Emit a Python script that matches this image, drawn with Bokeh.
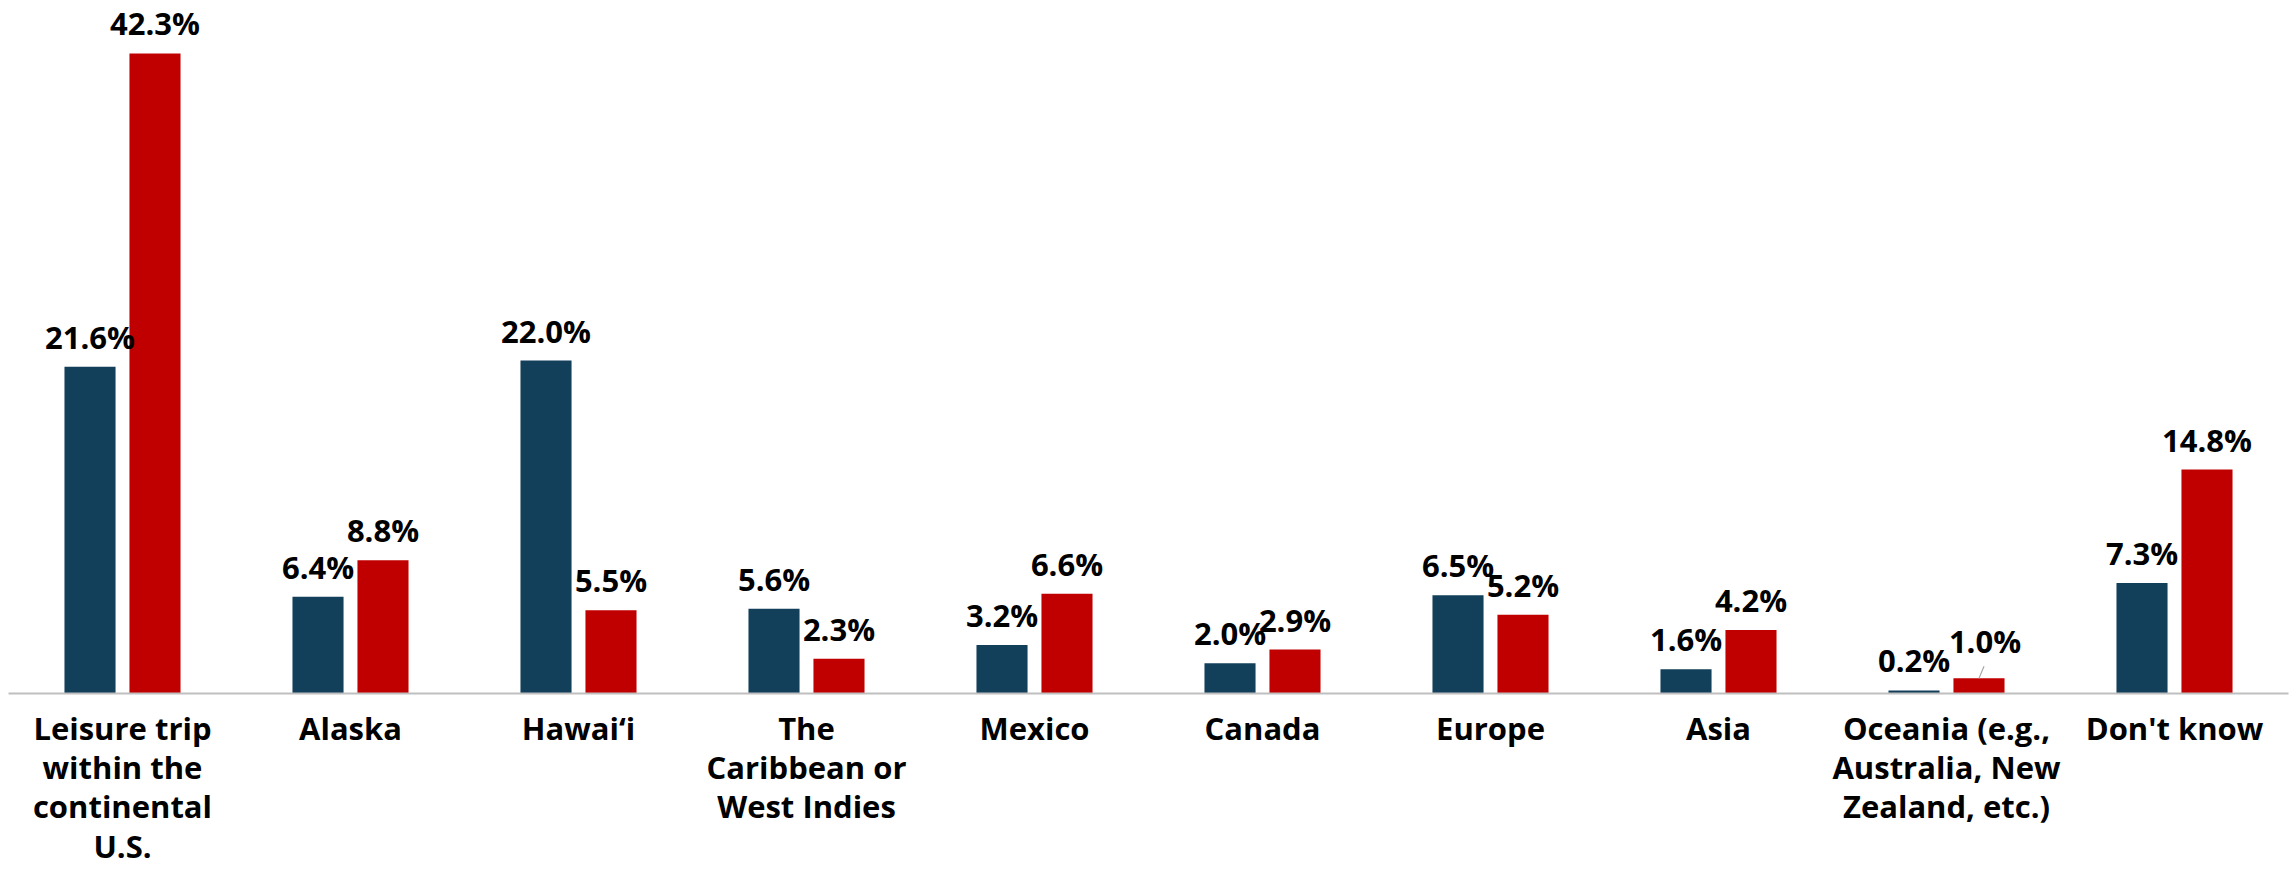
from bokeh.plotting import figure
from bokeh.models import ColumnDataSource, Range1d, FactorRange
from bokeh.transform import dodge
from bokeh.core.properties import value
from bokeh.embed import file_html
from bokeh.resources import INLINE

categories = [
    "Leisure trip\nwithin the\ncontinental\nU.S.",
    "Alaska",
    "Hawai\u2018i",
    "The\nCaribbean or\nWest Indies",
    "Mexico",
    "Canada",
    "Europe",
    "Asia",
    "Oceania (e.g.,\nAustralia, New\nZealand, etc.)",
    "Don't know",
]
series_blue = [21.6, 6.4, 22.0, 5.6, 3.2, 2.0, 6.5, 1.6, 0.2, 7.3]
series_red = [42.3, 8.8, 5.5, 2.3, 6.6, 2.9, 5.2, 4.2, 1.0, 14.8]

BLUE = "#123F5A"
RED = "#C00000"
FONT = "Open Sans"
FS = "31px"
LBL_OFF = -30

src = ColumnDataSource(dict(
    cat=categories,
    blue=series_blue,
    red=series_red,
    blue_lbl=[f"{v:.1f}%" for v in series_blue],
    red_lbl=[f"{v:.1f}%" for v in series_red],
))

p = figure(
    x_range=FactorRange(*categories, range_padding=0),
    y_range=Range1d(0, 45.8),
    width=2295, height=869,
    output_backend="svg", toolbar_location=None,
    min_border_left=8, min_border_right=7, min_border_top=0, min_border_bottom=0,
)
p.outline_line_color = None
p.xgrid.grid_line_color = None
p.ygrid.grid_line_color = None
p.yaxis.visible = False
p.background_fill_color = "white"
p.border_fill_color = "white"

off = 0.1425
bw = 0.224
p.vbar(x=dodge("cat", -off, range=p.x_range), top="blue", width=bw, source=src,
       fill_color=BLUE, line_color=None)
p.vbar(x=dodge("cat", off, range=p.x_range), top="red", width=bw, source=src,
       fill_color=RED, line_color=None)

p.text(x=dodge("cat", -off, range=p.x_range), y="blue", text="blue_lbl", source=src,
       text_align="center", text_baseline="alphabetic", y_offset=LBL_OFF,
       text_font=value(FONT), text_font_style="bold", text_font_size=FS, text_color="black")

# red labels: all but Oceania standard; Oceania label nudged up/right with a leader line
oce = categories[8]
std_idx = [i for i, c in enumerate(categories) if c != oce]
src_red_std = ColumnDataSource(dict(
    cat=[categories[i] for i in std_idx],
    red=[series_red[i] for i in std_idx],
    lbl=[f"{series_red[i]:.1f}%" for i in std_idx],
))
p.text(x=dodge("cat", off, range=p.x_range), y="red", text="lbl", source=src_red_std,
       text_align="center", text_baseline="alphabetic", y_offset=LBL_OFF,
       text_font=value(FONT), text_font_style="bold", text_font_size=FS, text_color="black")

i_o = categories.index(oce)
src_red_oce = ColumnDataSource(dict(
    cat=[oce], red=[series_red[i_o]], lbl=[f"{series_red[i_o]:.1f}%"],
))
p.text(x=dodge("cat", off, range=p.x_range), y="red", text="lbl", source=src_red_oce,
       text_align="center", text_baseline="alphabetic", y_offset=LBL_OFF - 7, x_offset=6,
       text_font=value(FONT), text_font_style="bold", text_font_size=FS, text_color="black")
p.segment(x0=dodge("cat", off, range=p.x_range), y0="red",
          x1=dodge("cat", off + 0.022, range=p.x_range), y1=series_red[i_o] + 0.8,
          source=src_red_oce, line_color="#A6A6A6", line_width=1.2)

ax = p.xaxis[0]
ax.axis_line_color = "#BFBFBF"
ax.axis_line_width = 2
ax.major_tick_line_color = None
ax.minor_tick_line_color = None
ax.major_label_standoff = 7
ax.major_label_text_font = FONT
ax.major_label_text_font_style = "bold"
ax.major_label_text_font_size = FS
ax.major_label_text_color = "black"
ax.major_label_text_line_height = 0.94
ax.major_label_orientation = "horizontal"

open("out.html", "w").write(file_html(p, INLINE))
